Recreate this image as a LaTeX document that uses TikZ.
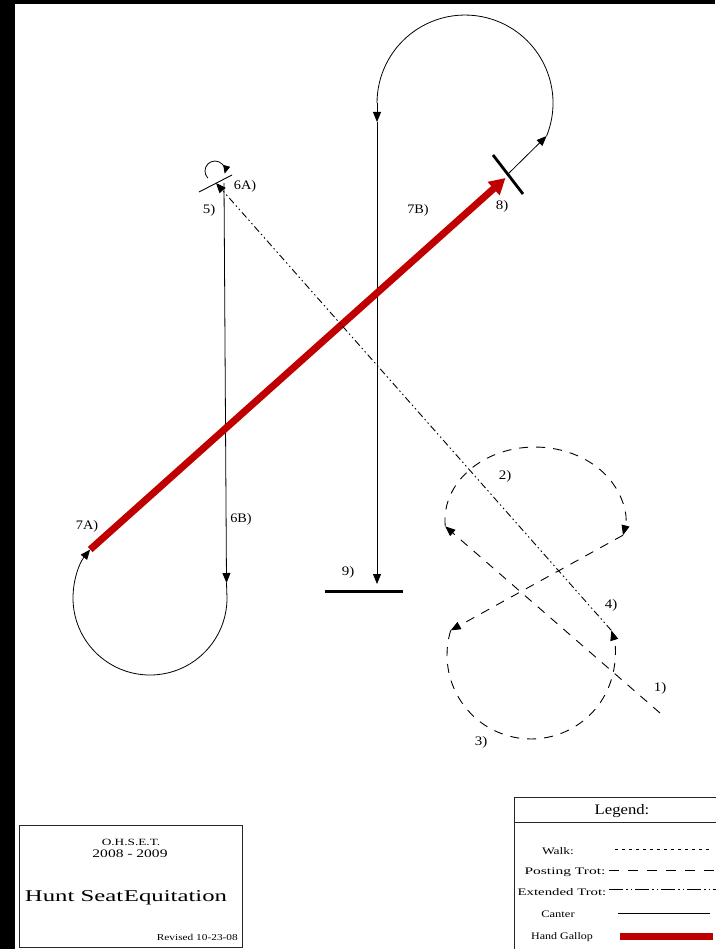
\documentclass[tikz,border=0pt]{standalone}
\usepackage{fontspec}
\setmainfont{Liberation Serif}
\usepackage{graphicx}
\usetikzlibrary{arrows.meta}
\definecolor{gallopred}{RGB}{192,0,0}
\newcommand\sx[2]{\scalebox{#1}[1]{#2}}
\begin{document}
\begin{tikzpicture}[x=1pt,y=-1pt,
  tri/.style={-{Triangle[length=10pt,width=8pt]}},
  smalltri/.style={-{Triangle[length=8pt,width=7pt]}},
  canter/.style={line width=0.8pt},
  posting/.style={line width=0.9pt, dash pattern=on 9pt off 8pt},
  ext/.style={line width=0.9pt, dash pattern=on 7pt off 3pt on 1.5pt off 3pt on 1.5pt off 3pt},
  legext/.style={line width=0.9pt, dash pattern=on 14pt off 3pt on 1.5pt off 3pt on 1.5pt off 3pt},
  legpost/.style={line width=0.9pt, dash pattern=on 10pt off 9pt},
  walkline/.style={line width=0.9pt, dash pattern=on 3pt off 4pt},
  gallop/.style={line width=7pt, draw=gallopred},
  lbl/.style={inner sep=0pt, font=\fontsize{13}{15}\selectfont},
  legtxt/.style={inner sep=0pt, font=\fontsize{10}{12}\selectfont},
  boxline/.style={line width=0.8pt, draw=black!85},
]
\useasboundingbox (0,0) rectangle (715,949);
\fill[white] (0,0) rectangle (715,949);
\fill[black] (0,0) rectangle (715,4.5);
\fill[black] (0,0) rectangle (15,949);

% ---- key points
\coordinate (m8) at (508,174);
\coordinate (a8) at (546.6,136);
\coordinate (l7B) at (377,103);
\coordinate (m7B) at (377,122);
\coordinate (e9) at (377,584);
\coordinate (b9L) at (325,591);
\coordinate (b9R) at (403,591);
\coordinate (s5) at (216,183);
\coordinate (lp5) at (207.9,178.1);
\coordinate (t6) at (224,183);
\coordinate (m6) at (226.5,583);
\coordinate (r7A) at (227,598);
\coordinate (a7) at (90.2,549.5);
\coordinate (g8) at (505.5,178);
\coordinate (p1) at (660,713);
\coordinate (p2) at (445.3,526.4);
\coordinate (q2) at (623.0,535.2);
\coordinate (q3) at (450.7,630.4);
\coordinate (e3) at (611.3,630.4);

% ---- 7B / 9 (canter, top loop)
\draw[canter,tri] (m8) -- (a8);
\draw[canter] (a8) arc[start angle=-22, end angle=180, radius=88pt];
\draw[canter,tri] (l7B) -- (m7B);
\draw[canter,tri] (m7B) -- (e9);
\draw[line width=3pt] (b9L) -- (b9R);

% ---- 6B / 7A (canter, bottom-left loop)
\draw[canter,tri] (t6) -- (m6);
\draw[canter,tri] (m6) -- (r7A) arc[start angle=0, end angle=-219, radius=77pt];

% ---- hand gallop
\draw[gallop,-{Triangle[length=16pt,width=17pt]}] (a7) -- (g8);
\draw[line width=2.8pt] (493,155) -- (523,194);

% ---- figure eight (posting trot)
\draw[posting,tri] (p1) -- (p2);
\draw[posting,tri] (p2) arc[start angle=185, end angle=-12, x radius=90pt, y radius=73pt];
\draw[posting,tri] (q2) -- (q3);
\draw[posting,tri] (q3) arc[start angle=163, end angle=377, radius=84pt];

% ---- extended trot to 5)
\draw[ext,tri] (e3) -- (s5);
\draw[line width=0.9pt] (199,192) -- (232,175);
\draw[canter,smalltri] (lp5) arc[start angle=225, end angle=-15, radius=10pt];

% ---- labels
\node[lbl] (L1) at (660,688) {\sx{1.15}{1)}};
\node[lbl] (L2) at (505,476) {\sx{1.15}{2)}};
\node[lbl] (L3) at (481,742) {\sx{1.15}{3)}};
\node[lbl] (L4) at (611,605) {\sx{1.15}{4)}};
\node[lbl] (L5) at (209,210) {\sx{1.15}{5)}};
\node[lbl] (L6A) at (245,186) {\sx{1.1}{6A)}};
\node[lbl] (L6B) at (241,519) {\sx{1.1}{6B)}};
\node[lbl] (L7A) at (87,526) {\sx{1.1}{7A)}};
\node[lbl] (L7B) at (418,210) {\sx{1.1}{7B)}};
\node[lbl] (L8) at (502,206) {\sx{1.15}{8)}};
\node[lbl] (L9) at (348,572) {\sx{1.15}{9)}};

% ---- title box
\draw[boxline] (19,825) rectangle (242,947);
\node[inner sep=0pt, font=\fontsize{9.5}{11}\selectfont] (t1) at (131,842) {\sx{1.4}{O.H.S.E.T.}};
\node[inner sep=0pt, font=\fontsize{11.5}{13}\selectfont] (t2) at (130,854) {\sx{1.35}{2008 - 2009}};
\node[inner sep=0pt, font=\fontsize{16.5}{19}\selectfont] (t3) at (126,898) {\sx{1.5}{Hunt Seat\kern0.5pt Equitation}};
\node[inner sep=0pt, font=\fontsize{9}{11}\selectfont, anchor=east] (t4) at (238,937) {\sx{1.26}{Revised 10-23-08}};

% ---- legend
\draw[boxline] (514,960) -- (514,797) -- (725,797);
\draw[boxline] (514,822) -- (725,822);
\node[inner sep=0pt, font=\fontsize{14.5}{17}\selectfont] (lg) at (622,811) {\sx{1.15}{Legend:}};
\node[legtxt] (lw) at (558,851) {\sx{1.35}{Walk:}};
\node[legtxt] (lp) at (565,872) {\sx{1.55}{Posting Trot:}};
\node[legtxt] (le) at (562,892) {\sx{1.48}{Extended Trot:}};
\node[legtxt] (lc) at (558,914) {\sx{1.25}{Canter}};
\node[legtxt] (lh) at (562,937) {\sx{1.2}{Hand Gallop}};
\draw[walkline] (615,849) -- (710,849);
\draw[legpost] (609,870) -- (716,870);
\draw[legext] (609,889) -- (716,889);
\draw[canter] (618,913) -- (710,913);
\fill[gallopred] (620,933) rectangle (713,940);
\end{tikzpicture}
\end{document}
